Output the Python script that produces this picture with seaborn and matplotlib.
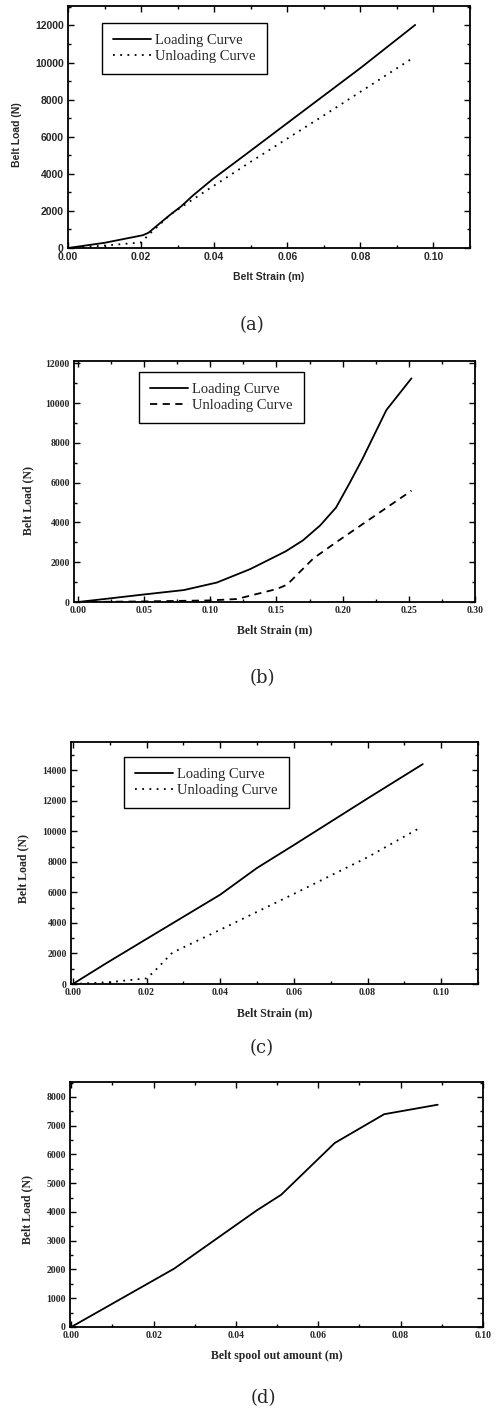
import numpy as np
import pandas as pd
import matplotlib
matplotlib.use("Agg")
import matplotlib.pyplot as plt
import seaborn as sns
from matplotlib.ticker import MultipleLocator, FormatStrFormatter

# ---------------- data ----------------
# (a)
a_load_x = [0.0, 0.010, 0.0205, 0.022, 0.028, 0.031, 0.034, 0.0395, 0.049, 0.063, 0.080, 0.095]
a_load_y = [0, 280, 690, 820, 1800, 2250, 2800, 3700, 5100, 7180, 9700, 12030]
a_unld_x = [0.0, 0.010, 0.020, 0.022, 0.028, 0.034, 0.050, 0.070, 0.094]
a_unld_y = [0, 130, 300, 700, 1800, 2600, 4650, 7150, 10200]
# (b)
b_load_x = [0.0, 0.020, 0.050, 0.080, 0.105, 0.130, 0.157, 0.170, 0.183, 0.195, 0.205, 0.215, 0.233, 0.252]
b_load_y = [0, 150, 380, 600, 980, 1650, 2550, 3100, 3850, 4750, 5950, 7200, 9650, 11250]
b_unld_x = [0.0, 0.050, 0.100, 0.120, 0.150, 0.158, 0.178, 0.195, 0.252]
b_unld_y = [0, 30, 80, 150, 650, 870, 2200, 3000, 5600]
# (c)
c_load_x = [0.0, 0.009, 0.020, 0.040, 0.050, 0.060, 0.080, 0.095]
c_load_y = [0, 1350, 2950, 5850, 7600, 9100, 12150, 14400]
c_unld_x = [0.0, 0.010, 0.020, 0.022, 0.027, 0.040, 0.060, 0.080, 0.094]
c_unld_y = [0, 120, 370, 800, 2050, 3550, 5900, 8300, 10200]
# (d)
d_x = [0.0, 0.025, 0.045, 0.051, 0.064, 0.076, 0.089]
d_y = [0, 2030, 4050, 4600, 6400, 7400, 7730]

legend_labels = ["Loading Curve", "Unloading Curve"]
captions = ["(a)", "(b)", "(c)", "(d)"]
xlabels = ["Belt Strain (m)", "Belt Strain (m)", "Belt Strain (m)", "Belt spool out amount (m)"]
ylabel = "Belt Load (N)"

# ---------------- style ----------------
sns.set_style("ticks")
plt.rcParams["font.family"] = ["Liberation Serif", "DejaVu Serif"]

W, H = 499, 1416
fig = plt.figure(figsize=(W / 100, H / 100), dpi=100)


def rect(l, r, t, b):
    return [l / W, 1 - b / H, (r - l) / W, (b - t) / H]


def style_axes(ax, xmaj, xmin, ymaj, ymin, xfmt, font, tsize):
    ax.xaxis.set_major_locator(MultipleLocator(xmaj))
    ax.xaxis.set_minor_locator(MultipleLocator(xmin))
    ax.yaxis.set_major_locator(MultipleLocator(ymaj))
    ax.yaxis.set_minor_locator(MultipleLocator(ymin))
    ax.xaxis.set_major_formatter(FormatStrFormatter(xfmt))
    ax.yaxis.set_major_formatter(FormatStrFormatter("%d"))
    ax.tick_params(which="both", direction="in", top=True, right=True,
                   color="black", width=1.0)
    ax.tick_params(which="major", length=4, pad=3)
    ax.tick_params(which="minor", length=2.5)
    for lab in ax.get_xticklabels() + ax.get_yticklabels():
        lab.set_fontfamily(font)
        lab.set_fontweight("bold")
        lab.set_fontsize(tsize)
    for s in ax.spines.values():
        s.set_linewidth(1.3)
        s.set_color("black")


def labels(ax, xl, xpos, ypos, font, size):
    ax.set_xlabel(xl, fontfamily=font, fontweight="bold", fontsize=size)
    ax.set_ylabel(ylabel, fontfamily=font, fontweight="bold", fontsize=size)
    ax.xaxis.label.set_va("center")
    ax.yaxis.label.set_va("center")
    ax.xaxis.set_label_coords(*xpos)
    ax.yaxis.set_label_coords(*ypos)


def legend(ax, anchor):
    leg = ax.legend(loc="upper left", bbox_to_anchor=anchor, borderaxespad=0,
                    frameon=True, fancybox=False, framealpha=1, edgecolor="black",
                    prop={"family": "Liberation Serif", "size": 10.5},
                    handlelength=2.6, handletextpad=0.3, labelspacing=0.2,
                    borderpad=0.75)
    leg.get_frame().set_linewidth(1.0)


lw = 1.3
# ---- (a) ----
ax = fig.add_axes(rect(68, 470, 6, 248))
sns.lineplot(x=a_load_x, y=a_load_y, ax=ax, color="black", lw=lw, sort=False,
             estimator=None, label=legend_labels[0])
sns.lineplot(x=a_unld_x, y=a_unld_y, ax=ax, color="black", lw=lw, sort=False,
             estimator=None, label=legend_labels[1], linestyle=(0, (1, 3)))
ax.set_xlim(0, 0.110)
ax.set_ylim(0, 13050)
style_axes(ax, 0.02, 0.01, 2000, 1000, "%.2f", "Liberation Sans", 7.5)
labels(ax, xlabels[0], (0.50, -0.120), (-0.127, 0.467), "Liberation Sans", 7.5)
legend(ax, (0.085, 0.930))

# ---- (b) ----
ax = fig.add_axes(rect(74, 475, 361, 602))
sns.lineplot(x=b_load_x, y=b_load_y, ax=ax, color="black", lw=lw, sort=False,
             estimator=None, label=legend_labels[0])
sns.lineplot(x=b_unld_x, y=b_unld_y, ax=ax, color="black", lw=lw, sort=False,
             estimator=None, label=legend_labels[1], linestyle=(0, (4, 3)))
ax.set_xlim(-0.003, 0.30)
ax.set_ylim(0, 12120)
style_axes(ax, 0.05, 0.025, 2000, 1000, "%.2f", "Liberation Serif", 7)
labels(ax, xlabels[1], (0.50, -0.116), (-0.115, 0.423), "Liberation Serif", 8.5)
legend(ax, (0.162, 0.954))

# ---- (c) ----
ax = fig.add_axes(rect(71, 478, 742, 984))
sns.lineplot(x=c_load_x, y=c_load_y, ax=ax, color="black", lw=lw, sort=False,
             estimator=None, label=legend_labels[0])
sns.lineplot(x=c_unld_x, y=c_unld_y, ax=ax, color="black", lw=lw, sort=False,
             estimator=None, label=legend_labels[1], linestyle=(0, (1, 3)))
ax.set_xlim(-0.0005, 0.110)
ax.set_ylim(0, 15850)
style_axes(ax, 0.02, 0.01, 2000, 1000, "%.2f", "Liberation Serif", 7)
labels(ax, xlabels[2], (0.50, -0.120), (-0.118, 0.479), "Liberation Serif", 8.5)
legend(ax, (0.130, 0.938))

# ---- (d) ----
ax = fig.add_axes(rect(70, 483, 1082, 1327))
sns.lineplot(x=d_x, y=d_y, ax=ax, color="black", lw=lw, sort=False, estimator=None)
ax.set_xlim(-0.0003, 0.100)
ax.set_ylim(0, 8520)
style_axes(ax, 0.02, 0.01, 1000, 500, "%.2f", "Liberation Serif", 7)
labels(ax, xlabels[3], (0.50, -0.118), (-0.104, 0.478), "Liberation Serif", 8.5)

# ---- captions ----
for cap, (cx, cy) in zip(captions, [(252, 325), (262, 678), (262, 1048), (263, 1398)]):
    fig.text(cx / W, 1 - cy / H, cap, ha="center", va="center",
             fontfamily="DejaVu Serif", fontsize=13)

fig.savefig("out.png", dpi=100)
